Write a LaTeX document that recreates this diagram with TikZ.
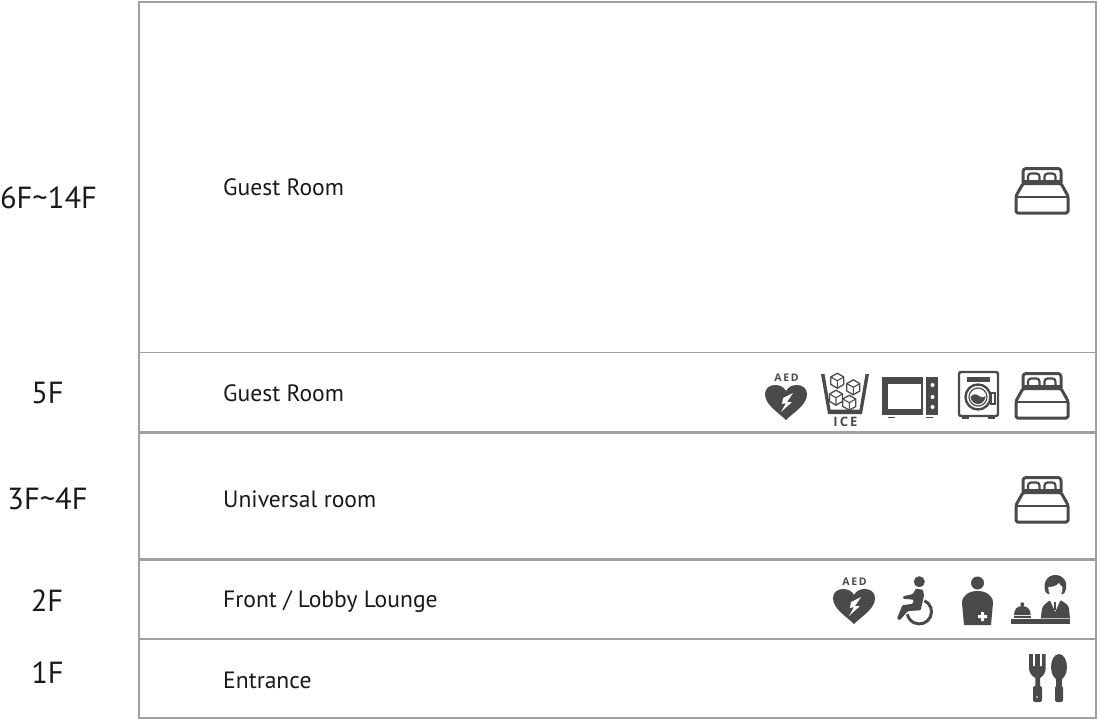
\documentclass[tikz,border=0pt]{standalone}
\usepackage{fontspec}
\setmainfont{PT Sans}
\newfontfamily\iconfont[LetterSpace=16]{Open Sans}
\definecolor{icondark}{HTML}{4A4A4A}
\definecolor{rulegray}{HTML}{A0A0A0}
\tikzset{
  bed icon/.pic={
    \draw[icondark,line width=3,rounded corners=3,line join=round] (-19,16)--(-19,1.5)--(19,1.5)--(19,16);
    \draw[icondark,line width=2.2,rounded corners=3] (-14,13)--(-14,6.5)--(-2.5,6.5)--(-2.5,13);
    \draw[icondark,line width=2.2,rounded corners=3] (2.5,13)--(2.5,6.5)--(13.5,6.5)--(13.5,13);
    \draw[icondark,line width=1.8] (-19,14)--(19,14);
    \draw[icondark,line width=3,rounded corners=1.5,line join=round] (-19,16.5)--(19,16.5)--(26,29)--(26,46)--(-26,46)--(-26,29)--cycle;
    \draw[icondark,line width=2] (-26,30)--(26,30);
  },
  aed icon/.pic={
    \node[icondark] (aedtext) at (0.5,4.7) {\fontsize{10.5}{11}\iconfont\bfseries AED};
    \fill[icondark] (0,47) .. controls (-8,39) and (-21,32) .. (-21,21) .. controls (-21,15) and (-16,12) .. (-11,12) .. controls (-6,12) and (-2,14) .. (0,18) .. controls (2,14) and (6,12) .. (11,12) .. controls (16,12) and (21,15) .. (21,21) .. controls (21,32) and (8,39) .. (0,47)--cycle;
    \fill[white] (7,20)--(-3,25)--(-4,31)--(0,30)--(-5,39)--(6,29)--(1,29)--cycle;
  },
  ice icon/.pic={
    \foreach \cx/\cy in {-7.7/6.7,8.3/13.3,-9/23.7,4.3/28.7} {
      \begin{scope}[shift={(\cx,\cy)}]
        \filldraw[fill=white,draw=icondark,line width=1.3,line join=round] (0,-7.5)--(6.5,-3.7)--(6.5,3.7)--(0,7.5)--(-6.5,3.7)--(-6.5,-3.7)--cycle;
        \draw[icondark,line width=1.1] (-6.5,-3.7)--(0,0)--(6.5,-3.7) (0,0)--(0,7.5);
      \end{scope}
    }
    \fill[icondark] (-24,0)--(-20.5,0)--(-14.5,35.5)--(14.5,35.5)--(20.5,0)--(24,0)--(17,40)--(-17,40)--cycle;
    \node[icondark] (icetext) at (0.5,47.7) {\fontsize{13}{14}\iconfont\bfseries ICE};
  },
  microwave icon/.pic={
    \fill[icondark] (0,0) rectangle (56,38);
    \fill[white] (6,7) rectangle (39,32);
    \fill[white] (41,0) rectangle (43.5,38);
    \foreach \dy in {8,20,30} \fill[white] (50.5,\dy) circle[radius=2];
    \foreach \fx in {6,44} \fill[icondark] (\fx,39.5) rectangle ++(7,1.7);
  },
  washer icon/.pic={
    \draw[icondark,line width=2.4,rounded corners=2] (1,1) rectangle (40,45);
    \foreach \fx in {4,30} \fill[icondark] (\fx,46) rectangle ++(7,1.7);
    \fill[icondark] (9,6) rectangle (32,11);
    \draw[icondark,line width=1.4] (33,22) rectangle (37,33);
    \filldraw[fill=white,draw=icondark,line width=2.4] (20,26) circle[radius=12.5];
    \draw[icondark,line width=1.2] (20,26) circle[radius=9];
    \fill[icondark] (12.5,26) .. controls (15,22) and (19,23) .. (21,25) .. controls (23,27) and (26,27) .. (27.5,25) .. controls (27,31) and (23,33) .. (20,33) .. controls (16,33) and (13,30) .. (12.5,26)--cycle;
  },
  chair icon/.pic={
    \fill[icondark] (0.3,-0.3) circle[radius=5.5];
    \draw[icondark,line width=3] ([shift={(-65:12.2)}]0.3,29.7) arc[start angle=-65,end angle=168,radius=12.2];
    \fill[icondark,rounded corners=1] (-3.3,6.7)--(4,7.7)--(5,13.3)--(1.7,28.3)--(-11,29)--(-19.3,38.3)--(-22,36.7)--(-16.7,23.3)--(-6,21.7)--(-5.3,17.7)--(-16,16.7)--(-16,14.3)--(-6,12)--cycle;
  },
  medical icon/.pic={
    \fill[icondark] (0,-8) circle[radius=6.5];
    \fill[icondark] (-13.5,34)--(-15.5,12) .. controls (-15.5,4) and (-8,0) .. (0,0) .. controls (8,0) and (15.5,4) .. (15.5,12)--(13.5,34)--cycle;
    \fill[white] (0.5,24.2) rectangle (9.5,27.2) (3.5,21.2) rectangle (6.5,30.2);
  },
  front icon/.pic={
    \fill[icondark] (0,1.3) rectangle (59,6);
    \fill[icondark] (3,-3) .. controls (3,-9) and (6.5,-12) .. (11.3,-12) .. controls (16,-12) and (19.7,-9) .. (19.7,-3)--cycle;
    \fill[icondark] (11.3,-13.7) circle[radius=2];
    \fill[icondark] (3,-2) rectangle (19.7,-0.3);
    \fill[icondark] (29.7,0.3)--(31,-9) .. controls (32,-13) and (35,-15) .. (39,-17.5)--(50,-17.5) .. controls (54,-15) and (58,-13) .. (58,-9)--(59,0.3)--cycle;
    \fill[white] (38.7,-18.5)--(44.2,-6.3)--(49.7,-18.5)--cycle;
    \draw[icondark,line width=2] (44.2,-16)--(44.2,-8);
    \fill[icondark] (34.5,-26) .. controls (31,-36) and (37,-43) .. (44.3,-43) .. controls (52,-43) and (58,-36) .. (54,-26)--(52,-24)--(37,-24)--cycle;
    \fill[white] (37.3,-31) .. controls (41,-31) and (46,-32) .. (48,-35) .. controls (49,-33) and (50,-32) .. (51.5,-31) .. controls (52,-25) and (49,-20) .. (44.3,-20) .. controls (40,-20) and (37,-25) .. (37.3,-31)--cycle;
  },
  cutlery icon/.pic={
    \fill[icondark] (0,0)--(0,14) .. controls (0,19) and (3,22) .. (6.3,24)--(6.3,32)--(11,32)--(11,24) .. controls (14,22) and (16.7,19) .. (16.7,14)--(16.7,0)--cycle;
    \fill[white] (4,-0.5) rectangle (5.8,12) (11,-0.5) rectangle (12.8,12);
    \fill[icondark,rounded corners=2] (4,32) rectangle (13,48);
    \fill[white] (8,43) circle[radius=0.9];
    \fill[icondark] (30,13) ellipse[x radius=8,y radius=13];
    \fill[icondark] (27,24) rectangle (33,32);
    \fill[icondark,rounded corners=2] (26,32) rectangle (34,48);
  },
}
\begin{document}
\begin{tikzpicture}[x=1pt,y=-1pt]
  \tikzstyle{room label}=[anchor=base west,inner sep=0,font=\fontsize{23.6}{26}\selectfont,text=black!90];
  \tikzstyle{floor label}=[anchor=base,inner sep=0,font=\fontsize{30.5}{34}\selectfont,text=black!90];
  \useasboundingbox (0,0) rectangle (1097,720);
  \draw[rulegray,line width=2] (139,2) rectangle (1095.5,717.5);
  \foreach \y/\w in {352.5/1.8,432/3,559/3,638.5/2} \draw[rulegray,line width=\w] (139,\y)--(1095.5,\y);
  % floors
  \node[floor label] (floorsix) at (48.5,208) {6F\textasciitilde14F};
  \node[floor label] (floorfive) at (47.5,403) {5F};
  \node[floor label] (floorthree) at (47.5,509) {3F\textasciitilde4F};
  \node[floor label] (floortwo) at (47,611) {2F};
  \node[floor label] (floorone) at (47.5,683) {1F};
  % rooms
  \node[room label] (roomsix) at (223,195) {Guest Room};
  \node[room label] (roomfive) at (223,401.7) {Guest Room};
  \node[room label] (roomthree) at (223,507.7) {Universal room};
  \node[room label] (roomtwo) at (223,607.7) {Front / Lobby Lounge};
  \node[room label] (roomone) at (223,688) {Entrance};
  % icons
  \foreach \y in {167,372,476} \pic at (1042,\y) {bed icon};
  \pic at (786,373) {aed icon};
  \pic at (845,374) {ice icon};
  \pic at (882,377) {microwave icon};
  \pic at (958,371) {washer icon};
  \pic at (854,577) {aed icon};
  \pic at (919,582) {chair icon};
  \pic at (977.5,591) {medical icon};
  \pic at (1011,618) {front icon};
  \pic at (1029,654) {cutlery icon};
\end{tikzpicture}
\end{document}
